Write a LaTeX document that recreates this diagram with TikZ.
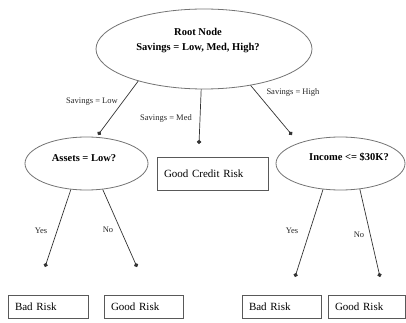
\documentclass[tikz,border=0pt]{standalone}
\usepackage{fontspec}
\setmainfont{Liberation Serif}
\usetikzlibrary{shapes.geometric,arrows.meta}
\begin{document}
\begin{tikzpicture}[x=1pt,y=-1pt,
  ell/.style={draw=black!55,line width=0.8pt,ellipse,inner sep=0pt},
  etext/.style={font=\fontsize{10.5}{15}\selectfont\bfseries,align=center,inner sep=0pt},
  box/.style={draw=black!65,line width=0.8pt,rectangle,inner xsep=7pt,inner ysep=0pt,align=left,font=\fontsize{11}{13}\selectfont},
  conn/.style={draw=black!80,line width=0.7pt,-{Circle[length=4.2pt]}},
  lab/.style={font=\fontsize{8.5}{10}\selectfont,inner sep=0pt,text=black!85}]
\useasboundingbox (0,0) rectangle (406,323);
% nodes
\node[ell,minimum width=216pt,minimum height=80pt] (root) at (204,49) {};
\node[etext] (rootT) at (198,41) {Root Node\\Savings = Low, Med, High?};
\node[ell,minimum width=123pt,minimum height=53pt] (L) at (86.5,163.5) {};
\node[etext] (LT) at (84,158) {Assets = Low?};
\node[ell,minimum width=129pt,minimum height=53pt] (R) at (340.5,163.5) {};
\node[etext] (RT) at (349,157) {Income <= \$30K?};
\node[box,minimum height=33pt,text width=97pt] (mid) at (212.5,173.5) {Good Credit Risk};
\node[box,minimum height=23pt,text width=66pt] (b1) at (48,306.5) {Bad Risk};
\node[box,minimum height=23pt,text width=65pt] (b2) at (143.5,306.5) {Good Risk};
\node[box,minimum height=23pt,text width=65pt] (b3) at (281.5,306.5) {Bad Risk};
\node[box,minimum height=23pt,text width=63pt] (b4) at (366.5,306.5) {Good Risk};
% arrow ends
\coordinate (dLow) at (98,135);
\coordinate (dMid) at (199,144);
\coordinate (dHigh) at (292,135);
\coordinate (dLY) at (45,267);
\coordinate (dLN) at (137,267);
\coordinate (dRY) at (295,277);
\coordinate (dRN) at (380,277);
% connectors
\draw[conn] (root.206) -- (dLow);
\draw[conn] (root.266) -- (dMid);
\draw[conn] (root.322) -- (dHigh);
\draw[conn] (L.239) -- (dLY);
\draw[conn] (L.302) -- (dLN);
\draw[conn] (R.236) -- (dRY);
\draw[conn] (R.307) -- (dRN);
% labels
\node[lab] (lLow) at (92,102) {Savings = Low};
\node[lab] (lMid) at (166,118) {Savings = Med};
\node[lab] (lHigh) at (293,92) {Savings = High};
\node[lab] (lLY) at (41,231) {Yes};
\node[lab] (lLN) at (108,230) {No};
\node[lab] (lRY) at (292,231) {Yes};
\node[lab] (lRN) at (359,235) {No};
\end{tikzpicture}
\end{document}
